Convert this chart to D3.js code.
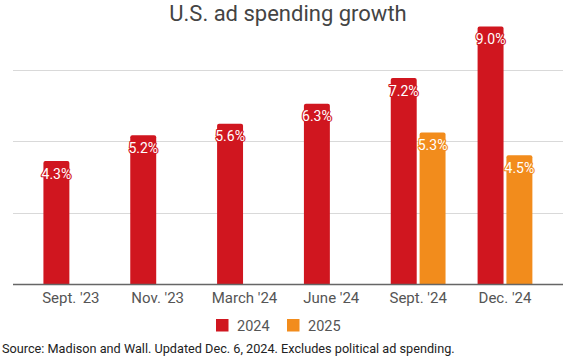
<!DOCTYPE html>
<html>
<head>
<meta charset="utf-8">
<script src="https://cdn.jsdelivr.net/npm/d3@7"></script>
<style>
  html, body { margin: 0; padding: 0; background: #fff; }
  svg { display: block; font-family: Roboto, "Noto Sans", sans-serif; }
</style>
</head>
<body>
<svg id="chart" width="563" height="357"></svg>
<script>
const categories = ["Sept. '23", "Nov. '23", "March '24", "June '24", "Sept. '24", "Dec. '24"];
const seriesKeys = ["2024", "2025"];
const values2024 = [4.3, 5.2, 5.6, 6.3, 7.2, 9.0];
const values2025 = [null, null, null, null, 5.3, 4.5];
const yTicks = [0, 2.5, 5, 7.5];
const colors = ["#d0161f", "#f28c1c"];
const titleText = "U.S. ad spending growth";
const sourceText = "Source: Madison and Wall. Updated Dec. 6, 2024. Excludes political ad spending.";

const svg = d3.select("#chart");
const W = 563;

const y = d3.scaleLinear().domain([0, 10]).range([284, -2]);
const x0 = d3.scaleBand().domain(categories).range([27.4, 548.4]).paddingInner(0.369).paddingOuter(0.1845);
const x1 = d3.scaleBand().domain(seriesKeys).range([0, x0.bandwidth()]).paddingInner(0.1);
const color = d3.scaleOrdinal().domain(seriesKeys).range(colors);

// title
svg.append("text")
  .attr("x", 288).attr("y", 21)
  .attr("text-anchor", "middle")
  .attr("font-size", 22)
  .attr("fill", "#444")
  .text(titleText);

// gridlines
svg.append("g").selectAll("line")
  .data(yTicks.filter(d => d > 0))
  .join("line")
  .attr("x1", 13).attr("x2", W)
  .attr("y1", d => Math.round(y(d)) + 0.5).attr("y2", d => Math.round(y(d)) + 0.5)
  .attr("stroke", "#d9d9d9").attr("stroke-width", 1);

// data rows
const rows = categories.map((c, i) => ({
  cat: c,
  vals: [{key: "2024", v: values2024[i]}, {key: "2025", v: values2025[i]}].filter(d => d.v != null)
}));

function topRoundedRect(x, yTop, w, h, r) {
  return `M${x},${yTop + h}V${yTop + r}Q${x},${yTop} ${x + r},${yTop}H${x + w - r}Q${x + w},${yTop} ${x + w},${yTop + r}V${yTop + h}Z`;
}

const groups = svg.append("g").selectAll("g")
  .data(rows).join("g")
  .attr("transform", d => `translate(${x0(d.cat)},0)`);

groups.selectAll("path")
  .data(d => d.vals).join("path")
  .attr("d", d => topRoundedRect(x1(d.key), y(d.v), x1.bandwidth(), y(0) - y(d.v), 2))
  .attr("fill", d => color(d.key));

groups.selectAll("text")
  .data(d => d.vals).join("text")
  .attr("x", d => x1(d.key) + x1.bandwidth() / 2)
  .attr("y", d => y(d.v) + 17.5)
  .attr("text-anchor", "middle")
  .attr("font-size", 14)
  .attr("fill", "#fff")
  .attr("stroke", d => color(d.key))
  .attr("stroke-width", 2.2)
  .attr("paint-order", "stroke")
  .attr("stroke-linejoin", "round")
  .text(d => d.v.toFixed(1) + "%");

// baseline
svg.append("line")
  .attr("x1", 13).attr("x2", W)
  .attr("y1", 284.5).attr("y2", 284.5)
  .attr("stroke", "#666").attr("stroke-width", 1.3);

// x axis labels
const xAxis = d3.axisBottom(x0).tickSize(0).tickPadding(0);
const gx = svg.append("g").attr("transform", "translate(0,284)").call(xAxis);
gx.select(".domain").remove();
gx.selectAll("text")
  .attr("y", 19.3).attr("dy", 0)
  .attr("font-size", 15)
  .attr("font-family", "Roboto, sans-serif")
  .attr("fill", "#555");

// legend
const legend = svg.append("g");
const legendX = [216, 287];
seriesKeys.forEach((k, i) => {
  legend.append("rect")
    .attr("x", legendX[i]).attr("y", 319)
    .attr("width", 12.5).attr("height", 12.5)
    .attr("fill", color(k));
  legend.append("text")
    .attr("x", legendX[i] + 21).attr("y", 330.7)
    .attr("font-size", 14.5)
    .attr("fill", "#555")
    .text(k);
});

// source
svg.append("text")
  .attr("x", 2).attr("y", 352.7)
  .attr("font-size", 12.7)
  .attr("fill", "#222")
  .text(sourceText);
</script>
</body>
</html>
